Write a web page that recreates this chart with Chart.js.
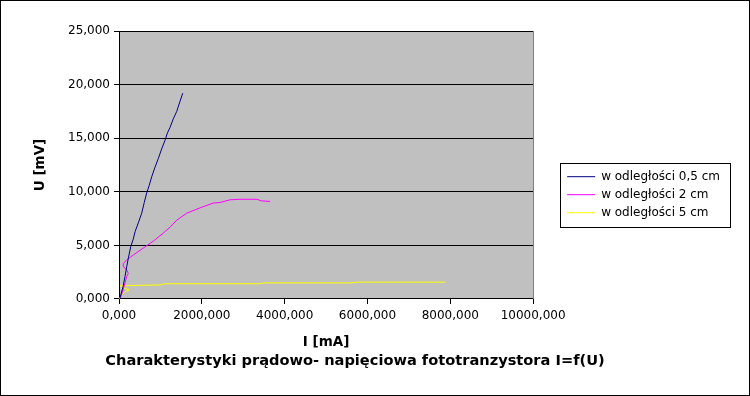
<!DOCTYPE html>
<html lang="pl">
<head>
<meta charset="utf-8">
<title>Charakterystyki prądowo- napięciowa fototranzystora</title>
<script src="https://cdn.jsdelivr.net/npm/chart.js@4.4.1/dist/chart.umd.min.js"></script>
<style>
  html, body { margin: 0; padding: 0; background: #fff; }
  canvas { display: block; }
</style>
</head>
<body>
<canvas id="chart" width="750" height="396"></canvas>
<script>
'use strict';

// pomiary: I [mA], U [mV]
const seriesLabels = ['w odległości 0,5 cm', 'w odległości 2 cm', 'w odległości 5 cm'];
const seriesColors = ['#000080', '#ff00ff', '#ffff00'];

const i05 = [20, 100, 145, 186, 230, 285, 345, 390, 466, 548, 610, 669, 730, 790, 870, 949, 1030, 1111, 1170, 1232, 1310, 1394, 1470, 1539];
const u05 = [0.05, 1.2, 2.1, 3.0, 3.9, 4.9, 5.6, 6.3, 7.1, 8.0, 9.0, 9.9, 10.6, 11.4, 12.3, 13.1, 14.0, 14.8, 15.5, 16.0, 16.8, 17.5, 18.4, 19.2];

const i2 = [30, 80, 145, 186, 225, 186, 110, 104, 186, 345, 587, 829, 1070, 1232, 1394, 1635, 1957, 2278, 2440, 2681, 2900, 3164, 3326, 3447, 3647];
const u2 = [0.1, 0.6, 1.5, 2.1, 2.4, 2.7, 3.0, 3.3, 3.65, 4.1, 4.75, 5.4, 6.15, 6.7, 7.35, 8.0, 8.5, 8.95, 9.0, 9.25, 9.3, 9.3, 9.3, 9.15, 9.1];

const i5 = [0, 65, 145, 250, 145, 50, 104, 24, 1000, 1100, 3400, 3500, 5600, 5750, 7880];
const u5 = [0.0, 0.37, 0.68, 0.84, 1.0, 0.96, 1.15, 1.24, 1.31, 1.42, 1.42, 1.5, 1.5, 1.57, 1.57];

const iTicks = [0, 2000, 4000, 6000, 8000, 10000];
const uTicks = [0, 5, 10, 15, 20, 25];

(() => {
  const el = document.getElementById('chart');
  if (!el || !window.Chart) return;

  Chart.defaults.font.family = "'DejaVu Sans', sans-serif";
  Chart.defaults.font.size = 12;
  Chart.defaults.color = '#000';

  const fmt = v => Number(v).toFixed(3).replace('.', ',');
  const zip = (xs, ys) => xs.map((x, k) => ({ x, y: ys[k] }));
  const series = [zip(i05, u05), zip(i2, u2), zip(i5, u5)];

  const frame = {
    id: 'frame',
    beforeDraw(chart) {
      const { ctx, chartArea: a } = chart;
      ctx.save();
      ctx.fillStyle = '#fff';
      ctx.fillRect(0, 0, chart.width, chart.height);
      ctx.fillStyle = '#c0c0c0';
      ctx.fillRect(a.left, a.top, a.right - a.left, a.bottom - a.top);
      ctx.restore();
    },
    beforeDatasetsDraw(chart) {
      const { ctx, chartArea: a } = chart;
      const x = Math.round(a.right) + 0.5;
      ctx.save();
      ctx.strokeStyle = '#808080';
      ctx.lineWidth = 1;
      ctx.beginPath();
      ctx.moveTo(x, a.top);
      ctx.lineTo(x, a.bottom);
      ctx.stroke();
      ctx.restore();
    },
    afterDraw(chart) {
      const { ctx } = chart;
      const boxes = chart.legend && chart.legend.legendHitBoxes;
      ctx.save();
      ctx.strokeStyle = '#000';
      ctx.lineWidth = 1;
      if (boxes && boxes.length) {
        const l = Math.min(...boxes.map(b => b.left)) - 7;
        const t = Math.min(...boxes.map(b => b.top)) - 8;
        const r = Math.max(...boxes.map(b => b.left + b.width)) + 10;
        const btm = Math.max(...boxes.map(b => b.top + b.height)) + 8;
        ctx.strokeRect(Math.round(l) + 0.5, Math.round(t) + 0.5, Math.round(r - l), Math.round(btm - t));
      }
      ctx.strokeRect(0.5, 0.5, chart.width - 1, chart.height - 1);
      ctx.restore();
    }
  };

  new Chart(el.getContext('2d'), {
    type: 'scatter',
    data: {
      datasets: series.map((pts, k) => ({
        label: seriesLabels[k],
        data: pts,
        showLine: true,
        borderColor: seriesColors[k],
        backgroundColor: seriesColors[k],
        borderWidth: 1,
        pointRadius: 0,
        pointHoverRadius: 0,
        tension: 0
      }))
    },
    options: {
      responsive: false,
      animation: false,
      devicePixelRatio: 1,
      layout: { padding: { left: -20, right: 20, top: 31, bottom: 26.5 } },
      plugins: {
        legend: {
          position: 'right',
          align: 'center',
          fullSize: false,
          maxWidth: 240,
          title: { display: true, text: ' ', padding: { top: 45, bottom: 0 } },
          labels: {
            usePointStyle: true,
            pointStyle: 'line',
            pointStyleWidth: 28,
            padding: 6,
            color: '#000',
            font: { size: 12 }
          }
        },
        title: {
          display: true,
          position: 'bottom',
          text: 'Charakterystyki prądowo- napięciowa fototranzystora I=f(U)',
          color: '#000',
          font: { size: 14.6, weight: 'bold' },
          padding: { top: 1, bottom: 0 }
        },
        tooltip: { enabled: false }
      },
      scales: {
        x: {
          type: 'linear',
          min: iTicks[0],
          max: iTicks[iTicks.length - 1],
          afterBuildTicks: s => { s.ticks = iTicks.map(value => ({ value })); },
          afterFit: s => { s.height = 52; },
          grid: { drawOnChartArea: false, drawTicks: true, tickLength: 5, color: '#000' },
          border: { color: '#000' },
          ticks: { callback: fmt, padding: 5, maxRotation: 0, color: '#000' },
          title: {
            display: true,
            text: 'I [mA]',
            color: '#000',
            font: { size: 13.5, weight: 'bold' },
            padding: { top: 0, bottom: 0 }
          }
        },
        y: {
          type: 'linear',
          min: uTicks[0],
          max: uTicks[uTicks.length - 1],
          afterBuildTicks: s => { s.ticks = uTicks.map(value => ({ value })); },
          afterFit: s => { s.width = 139; },
          grid: { color: '#000', tickLength: 5 },
          border: { color: '#000' },
          ticks: { callback: fmt, padding: 4, color: '#000' },
          title: {
            display: true,
            text: 'U [mV]',
            color: '#000',
            font: { size: 13.5, weight: 'bold' },
            padding: { top: 52, bottom: 0 }
          }
        },
        gap: {
          type: 'linear',
          position: 'right',
          display: true,
          afterFit: s => { s.width = 28; },
          grid: { display: false },
          border: { display: false },
          ticks: { display: false }
        }
      }
    },
    plugins: [frame]
  });
})();
</script>
</body>
</html>
